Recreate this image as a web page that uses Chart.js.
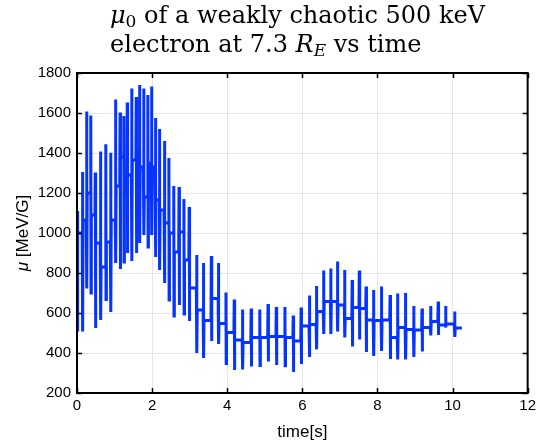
<!DOCTYPE html>
<html>
<head>
<meta charset="utf-8">
<script src="https://cdn.jsdelivr.net/npm/chart.js@4"></script>
<style>
  html, body { margin: 0; padding: 0; background: #fff; }
  #wrap { width: 540px; height: 444px; }
</style>
</head>
<body>
<div id="wrap"><canvas id="muChart" width="540" height="444"></canvas></div>
<script>
// times of the fast gyro spikes [s]
const spikeTimes = [
  0.01, 0.15, 0.26, 0.37, 0.49, 0.63, 0.77, 0.90, 1.03, 1.15,
  1.25, 1.34, 1.46, 1.58, 1.67, 1.78, 1.89, 1.99, 2.09, 2.20,
  2.33, 2.45, 2.58, 2.72, 2.85, 2.99, 3.19, 3.37, 3.58, 3.77,
  3.97, 4.19, 4.41, 4.64, 4.87, 5.09, 5.31, 5.54, 5.76, 5.97,
  6.19, 6.38, 6.57, 6.76, 6.94, 7.13, 7.33, 7.52, 7.70, 7.90,
  8.11, 8.34, 8.54, 8.75, 8.97, 9.19, 9.42, 9.62, 9.82, 10.06
];
// top of each spike [MeV/G]
const spikeHighs = [
  1110, 1305, 1607, 1588, 1302, 1407, 1444, 1401, 1668, 1602,
  1585, 1652, 1723, 1680, 1740, 1723, 1690, 1732, 1575, 1520,
  1460, 1375, 1235, 1230, 1170, 1130, 890, 850, 885, 850,
  702, 668, 618, 623, 618, 645, 630, 630, 588, 628,
  688, 735, 812, 823, 857, 815, 765, 812, 733, 715,
  732, 690, 698, 700, 635, 623, 635, 657, 635, 607
];
// bottom of each spike [MeV/G]
const spikeLows = [
  507, 507, 722, 700, 525, 565, 667, 605, 850, 820,
  855, 900, 860, 900, 950, 990, 930, 990, 880, 815,
  750, 665, 585, 640, 595, 560, 400, 375, 460, 445,
  348, 315, 318, 333, 338, 357, 340, 336, 305, 345,
  380, 418, 495, 495, 507, 478, 432, 468, 405, 385,
  410, 370, 368, 368, 380, 407, 488, 490, 528, 480
];
// slow (bounce-averaged) level after each spike [MeV/G]
const baseAfter = [
  1000, 1065, 1200, 1090, 950, 830, 955, 1065, 1235, 1380,
  1200, 1290, 1365, 1415, 1330, 1180, 1350, 1330, 1165, 1115,
  1050, 1000, 905, 1005, 865, 725, 615, 562, 673, 548,
  502, 465, 452, 477, 477, 482, 482, 478, 460, 535,
  542, 607, 657, 657, 640, 573, 628, 623, 565, 562,
  565, 478, 528, 518, 515, 528, 557, 540, 545, 525
];
const startValue = 1000;
const endTime = 10.25;

const xTicks = [0, 2, 4, 6, 8, 10, 12];
const yTicks = [200, 400, 600, 800, 1000, 1200, 1400, 1600, 1800];

// build the trace
const points = [{ x: 0, y: startValue }];
let prev = startValue;
spikeTimes.forEach((t, i) => {
  points.push({ x: t - 0.012, y: prev });
  points.push({ x: t - 0.003, y: spikeHighs[i] });
  points.push({ x: t + 0.003, y: spikeLows[i] });
  points.push({ x: t + 0.012, y: baseAfter[i] });
  prev = baseAfter[i];
});
points.push({ x: endTime, y: prev });

const sans = "'Liberation Sans', Arial, sans-serif";
const serif = "'DejaVu Serif', 'Liberation Serif', serif";

// box, inner ticks and the titles (MATLAB look)
const decor = {
  id: 'decor',
  afterDraw(chart) {
    const c = chart.ctx;
    const a = chart.chartArea;
    const xs = chart.scales.x;
    const ys = chart.scales.y;
    c.save();
    c.strokeStyle = '#000';
    c.lineWidth = 1.5;
    c.beginPath();
    xTicks.forEach(v => {
      const px = Math.round(xs.getPixelForValue(v)) + 0.5;
      c.moveTo(px, a.bottom); c.lineTo(px, a.bottom - 5);
      c.moveTo(px, a.top); c.lineTo(px, a.top + 5);
    });
    yTicks.forEach(v => {
      const py = Math.round(ys.getPixelForValue(v)) + 0.5;
      c.moveTo(a.left, py); c.lineTo(a.left + 5, py);
      c.moveTo(a.right, py); c.lineTo(a.right - 5, py);
    });
    c.stroke();
    c.lineWidth = 2;
    c.strokeRect(a.left, a.top, a.right - a.left, a.bottom - a.top);

    // x title
    c.fillStyle = '#000';
    c.textAlign = 'center';
    c.textBaseline = 'middle';
    c.font = '17px ' + sans;
    c.fillText('time[s]', (a.left + a.right) / 2, 432);

    // y title
    c.save();
    c.translate(23, (a.top + a.bottom) / 2);
    c.rotate(-Math.PI / 2);
    c.textAlign = 'left';
    c.font = 'italic 17px ' + sans;
    const w1 = c.measureText('μ').width;
    c.font = '17px ' + sans;
    const w2 = c.measureText(' [MeV/G]').width;
    let x0 = -(w1 + w2) / 2;
    c.font = 'italic 17px ' + sans;
    c.fillText('μ', x0, 0);
    c.font = '17px ' + sans;
    c.fillText(' [MeV/G]', x0 + w1, 0);
    c.restore();

    // two-line title with subscripts
    const size = 24;
    const lines = [
      [['μ', 'italic'], ['0', 'sub'], [' of a weakly chaotic 500 keV', '']],
      [['electron at 7.3 ', ''], ['R', 'italic'], ['E', 'subitalic'], [' vs time', '']]
    ];
    const baselines = [23, 52];
    c.textAlign = 'left';
    c.textBaseline = 'alphabetic';
    lines.forEach((parts, li) => {
      let x = 110;
      parts.forEach(([txt, kind]) => {
        let f = size + 'px ' + serif;
        let dy = 0;
        if (kind === 'italic') f = 'italic ' + f;
        if (kind === 'sub') { f = Math.round(size * 0.7) + 'px ' + serif; dy = 4; }
        if (kind === 'subitalic') { f = 'italic ' + Math.round(size * 0.7) + 'px ' + serif; dy = 4; }
        c.font = f;
        c.fillText(txt, x, baselines[li] + dy);
        x += c.measureText(txt).width;
      });
    });
    c.restore();
  }
};

const chart = new Chart(document.getElementById('muChart').getContext('2d'), {
  type: 'scatter',
  data: {
    datasets: [{
      data: points,
      showLine: true,
      borderColor: '#0533ff',
      borderWidth: 3,
      pointRadius: 0,
      tension: 0,
    }],
  },
  options: {
    responsive: false,
    animation: false,
    layout: { padding: { top: 73, right: 10, left: 0, bottom: 0 } },
    plugins: { legend: { display: false }, tooltip: { enabled: false } },
    scales: {
      x: {
        type: 'linear',
        min: 0,
        max: 12,
        afterFit: s => { s.height = 51; },
        afterBuildTicks: s => { s.ticks = xTicks.map(v => ({ value: v })); },
        ticks: { color: '#000', font: { family: sans, size: 15 }, padding: 4, maxRotation: 0, callback: v => String(v) },
        grid: { color: '#e6e6e6', drawTicks: false },
        border: { display: false },
      },
      y: {
        type: 'linear',
        min: 200,
        max: 1800,
        afterFit: s => { s.width = 77; },
        afterBuildTicks: s => { s.ticks = yTicks.map(v => ({ value: v })); },
        ticks: { color: '#000', font: { family: sans, size: 15 }, padding: 6, callback: v => String(v) },
        grid: { color: '#e6e6e6', drawTicks: false },
        border: { display: false },
      },
    },
  },
  plugins: [decor],
});
</script>
</body>
</html>
